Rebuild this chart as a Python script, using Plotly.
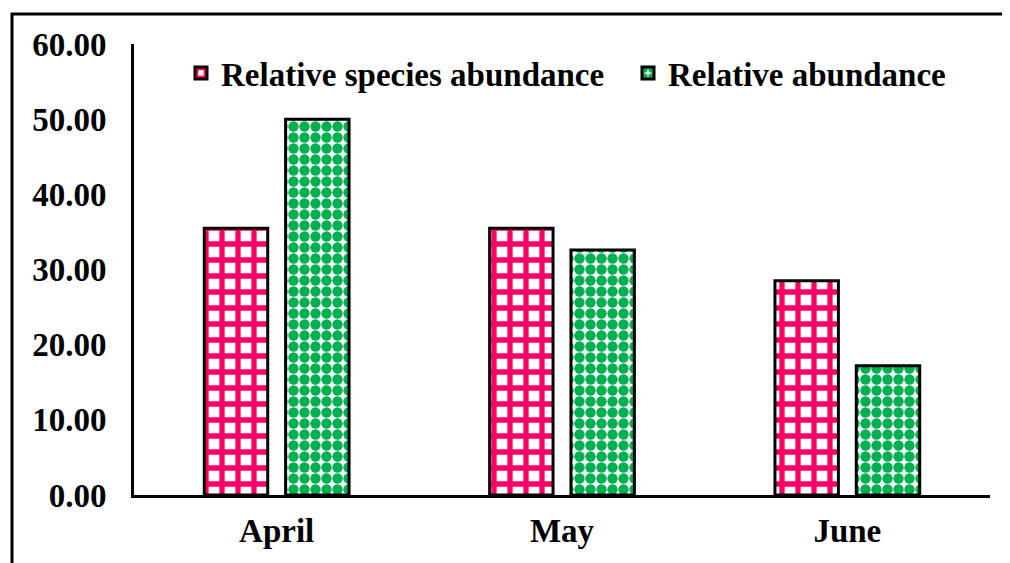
import plotly.graph_objects as go

months = ["April", "May", "June"]
rel_species = [35.5, 35.5, 28.5]
rel_abundance = [50.0, 32.6, 17.2]
y_ticks = [0, 10, 20, 30, 40, 50, 60]

FONT = "Times New Roman, Liberation Serif, serif"
PINK = "#FF0066"
GREEN = "#00B050"
FS = 33

fig = go.Figure()
fig.add_trace(go.Bar(
    x=months, y=rel_species, name="Relative species abundance", legend="legend",
    marker=dict(color="white", line=dict(color="black", width=3),
                pattern=dict(shape="+", fgcolor=PINK, bgcolor="white", fgopacity=1,
                             size=16, solidity=0.55, fillmode="replace")),
))
fig.add_trace(go.Bar(
    x=months, y=rel_abundance, name="Relative abundance", legend="legend2",
    marker=dict(color="white", line=dict(color="black", width=3),
                pattern=dict(shape=".", fgcolor=GREEN, bgcolor="white", fgopacity=1,
                             size=11, solidity=0.7, fillmode="replace")),
))

OFF = 8  # page body margin
L, R, T, B = 134 - OFF, 28, 44 - OFF, 76
W, H = 1010, 563
pw, ph = W - L - R, H - T - B

def px_x(x):  # window x -> paper
    return (x - OFF - L) / pw

def px_y(y):  # window y -> paper
    return (H - B - (y - OFF)) / ph

legend_common = dict(orientation="h", xanchor="left", yanchor="top",
                     font=dict(family=FONT, size=FS, color="black", weight="bold"),
                     bgcolor="rgba(0,0,0,0)", itemwidth=30, tracegroupgap=0)

fig.update_layout(
    width=W, height=H,
    margin=dict(l=L, r=R, t=T, b=B),
    paper_bgcolor="white", plot_bgcolor="white",
    barmode="group", bargap=0.43, bargroupgap=0.22,
    font=dict(family=FONT, size=FS, color="black"),
    showlegend=True,
    legend=dict(x=px_x(181), y=px_y(45), **legend_common),
    legend2=dict(x=px_x(628), y=px_y(45), **legend_common),
    xaxis=dict(showline=True, linecolor="black", linewidth=3, ticks="",
               tickfont=dict(family=FONT, size=FS, weight="bold"),
               ticklabelstandoff=4, showgrid=False, zeroline=False),
    yaxis=dict(range=[0, 60], tickvals=y_ticks, tickformat=".2f",
               showline=True, linecolor="black", linewidth=3, ticks="",
               tickfont=dict(family=FONT, size=FS, weight="bold"),
               ticklabelstandoff=18, showgrid=False, zeroline=False),
    shapes=[dict(type="rect", xref="paper", yref="paper",
                 x0=px_x(12), x1=px_x(1040),
                 y0=px_y(620), y1=px_y(14),
                 line=dict(color="black", width=3), fillcolor="rgba(0,0,0,0)",
                 layer="below")],
)

fig.write_html("out.html")
